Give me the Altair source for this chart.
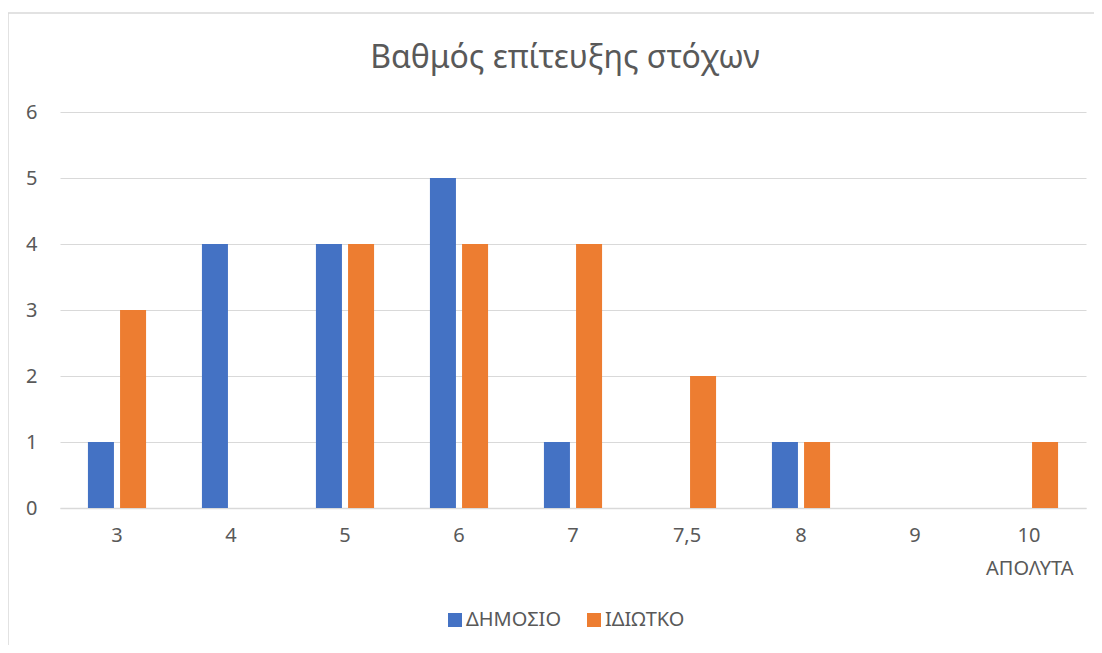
import altair as alt
import pandas as pd

categories = ["3", "4", "5", "6", "7", "7,5", "8", "9", "10"]
dimosio = [1, 4, 4, 5, 1, 0, 1, 0, 0]
idiotiko = [3, 0, 4, 4, 4, 2, 1, 0, 1]
series = ["ΔΗΜΟΣΙΟ", "ΙΔΙΩΤΚΟ"]
colors = ["#4472C4", "#ED7D31"]
title_text = "Βαθμός επίτευξης στόχων"

rows = []
for i, c in enumerate(categories):
    rows.append({"cat": c, "series": series[0], "value": dimosio[i]})
    rows.append({"cat": c, "series": series[1], "value": idiotiko[i]})
df = pd.DataFrame(rows)

FONT = "Noto Sans"
GRAY = "#595959"
FS = 20

bars = alt.Chart(df).mark_bar().encode(
    x=alt.X("cat:N", sort=categories,
            scale=alt.Scale(paddingInner=0.49, paddingOuter=0.245),
            axis=alt.Axis(title="ΑΠΟΛΥΤΑ", labelAngle=0, labelFontSize=FS,
                          labelColor=GRAY, labelFont=FONT, labelPadding=17,
                          ticks=False, domainColor="#d9d9d9", domainWidth=1.5,
                          titleFont=FONT, titleFontSize=FS, titleColor=GRAY,
                          titleFontWeight="normal", titleAlign="right",
                          titleAnchor="end", titleX=1013, titleY=66,
                          titleBaseline="alphabetic")),
    xOffset=alt.XOffset("series:N", sort=series,
                        scale=alt.Scale(paddingInner=0.19)),
    y=alt.Y("value:Q", scale=alt.Scale(domain=[0, 6]),
            axis=alt.Axis(title=None, values=[0, 1, 2, 3, 4, 5, 6],
                          labelFontSize=FS, labelColor=GRAY, labelFont=FONT,
                          labelPadding=23, ticks=False, domain=False,
                          gridColor="#d9d9d9", gridWidth=1.2)),
    color=alt.Color("series:N", sort=series,
                    scale=alt.Scale(domain=series, range=colors),
                    legend=alt.Legend(title=None, orient="none",
                                      direction="horizontal", legendX=385,
                                      legendY=498, symbolType="square",
                                      symbolSize=196, symbolStrokeWidth=0,
                                      labelFontSize=FS, labelColor=GRAY,
                                      labelFont=FONT, columnPadding=23,
                                      labelOffset=1)),
)

one = pd.DataFrame({"k": [0]})
left_border = alt.Chart(one).mark_rule(color="#d9d9d9", strokeWidth=1.5).encode(
    x=alt.value(-52), y=alt.value(-99), y2=alt.value(560))
top_border = alt.Chart(one).mark_rule(color="#d9d9d9", strokeWidth=1.5).encode(
    x=alt.value(-52), x2=alt.value(1060), y=alt.value(-99))
title = alt.Chart(one).mark_text(font=FONT, fontSize=32, color=GRAY,
                                 align="center", baseline="alphabetic").encode(
    x=alt.value(505), y=alt.value(-44), text=alt.value(title_text))

chart = alt.layer(left_border, top_border, title, bars).properties(
    width=1026, height=396,
    background="white",
    autosize=alt.AutoSizeParams(type="none"),
    padding={"left": 52, "top": 104, "right": 8, "bottom": 137},
).configure_view(stroke=None)

chart.save("out.html", embed_options={"renderer": "svg", "actions": False})
